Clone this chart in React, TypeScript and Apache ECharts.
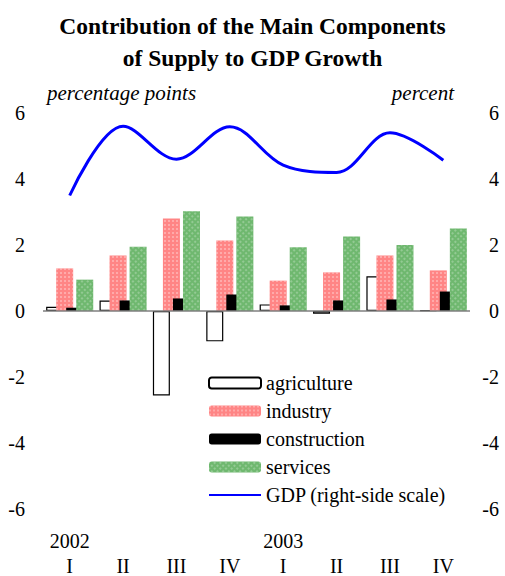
import React, { useEffect, useRef } from "react";
import * as echarts from "echarts";

const quarters = ["I", "II", "III", "IV", "I", "II", "III", "IV"];
const years = ["2002", "", "", "", "2003", "", "", ""];
const agriculture = [0.13, 0.32, -2.56, -0.92, 0.2, -0.08, 1.05, 0.02];
const industry = [1.29, 1.68, 2.8, 2.14, 0.92, 1.17, 1.68, 1.23];
const construction = [0.1, 0.32, 0.38, 0.5, 0.17, 0.32, 0.35, 0.59];
const services = [0.95, 1.95, 3.02, 2.86, 1.93, 2.26, 2.0, 2.5];
const gdp = [3.5, 5.6, 4.6, 5.58, 4.42, 4.2, 5.4, 4.57];
const yTicks = { min: -6, max: 6, interval: 2 };

const FONT = "Liberation Serif";

export default function App() {
  const ref = useRef<HTMLDivElement>(null);
  useEffect(() => {
    if (!ref.current) return;
    const chart = echarts.init(ref.current, undefined, { renderer: "svg" });
    const barW = 17;
    const gap = "-41%";
    const label = { fontFamily: FONT, fontSize: 20, color: "#000" };
    const sub = { fontFamily: FONT, fontStyle: "italic", fontWeight: "normal", fontSize: 21, color: "#000" };
    chart.setOption({
      animation: false,
      backgroundColor: "#ffffff",
      textStyle: { fontFamily: FONT },
      title: [
        {
          text: "Contribution of the Main Components\nof Supply to GDP Growth",
          left: "center",
          top: 5,
          textStyle: {
            fontFamily: FONT,
            fontWeight: "bold",
            fontSize: 23.5,
            lineHeight: 32,
            color: "#000",
          },
        },
        { text: "percentage points", left: 42, top: 77, textStyle: sub },
        { text: "percent", right: 46, top: 77, textStyle: sub },
      ],
      legend: {
        orient: "vertical",
        left: 208,
        top: 373,
        padding: 0,
        itemWidth: 52,
        itemHeight: 11,
        itemGap: 8,
        textStyle: { fontFamily: FONT, fontSize: 20, color: "#000", lineHeight: 20 },
        data: [
          { name: "agriculture" },
          { name: "industry" },
          { name: "construction" },
          { name: "services" },
          { name: "GDP (right-side scale)", itemStyle: { opacity: 0 } },
        ],
      },
      grid: { left: 43, right: 35, top: 113, bottom: 67, containLabel: false },
      xAxis: [
        {
          type: "category",
          data: quarters,
          position: "bottom",
          axisLine: { show: false, onZero: false },
          axisTick: { show: false },
          axisLabel: { ...label, margin: 47 },
        },
        {
          type: "category",
          data: years,
          position: "bottom",
          axisLine: { show: false, onZero: false },
          axisTick: { show: false },
          axisLabel: { ...label, margin: 22, interval: 0 },
        },
      ],
      yAxis: [
        {
          type: "value",
          ...yTicks,
          axisLine: { show: false },
          axisTick: { show: false },
          splitLine: { show: false },
          axisLabel: { ...label, margin: 18 },
        },
        {
          type: "value",
          position: "right",
          ...yTicks,
          axisLine: { show: false },
          axisTick: { show: false },
          splitLine: { show: false },
          axisLabel: { ...label, margin: 29, align: "right" },
        },
      ],
      series: [
        {
          name: "agriculture",
          type: "bar",
          data: agriculture,
          barWidth: barW,
          barGap: gap,
          itemStyle: { color: "#ffffff", borderColor: "#000", borderWidth: 1.2 },
          markLine: {
            silent: true,
            symbol: "none",
            z: 10,
            label: { show: false },
            lineStyle: { color: "#7f7f7f", width: 1.5, type: "solid" },
            data: [{ yAxis: 0 }],
          },
        },
        {
          name: "industry",
          type: "bar",
          data: industry,
          barWidth: barW,
          barGap: gap,
          itemStyle: {
            color: "#ff8585",
            decal: {
              symbol: "rect",
              symbolSize: 1,
              dashArrayX: [2, 2],
              dashArrayY: [2, 2],
              color: "rgba(255,255,255,0.3)",
              rotation: 0,
            },
          },
        },
        {
          name: "construction",
          type: "bar",
          data: construction,
          barWidth: barW,
          barGap: gap,
          itemStyle: { color: "#000000" },
        },
        {
          name: "services",
          type: "bar",
          data: services,
          barWidth: barW,
          barGap: gap,
          itemStyle: {
            color: "#6fb86f",
            decal: {
              symbol: "rect",
              symbolSize: 1,
              dashArrayX: [2, 2],
              dashArrayY: [2, 2],
              color: "rgba(255,255,255,0.25)",
              rotation: Math.PI / 4,
            },
          },
        },
        {
          name: "GDP (right-side scale)",
          type: "line",
          yAxisIndex: 1,
          data: gdp,
          smooth: 0.35,
          symbol: "none",
          lineStyle: { color: "#0000ff", width: 3 },
          itemStyle: { color: "#0000ff" },
        },
      ],
    });
    return () => chart.dispose();
  }, []);
  return (
    <div
      ref={ref}
      style={{ position: "fixed", left: 0, top: 0, width: 505, height: 576 }}
    />
  );
}
